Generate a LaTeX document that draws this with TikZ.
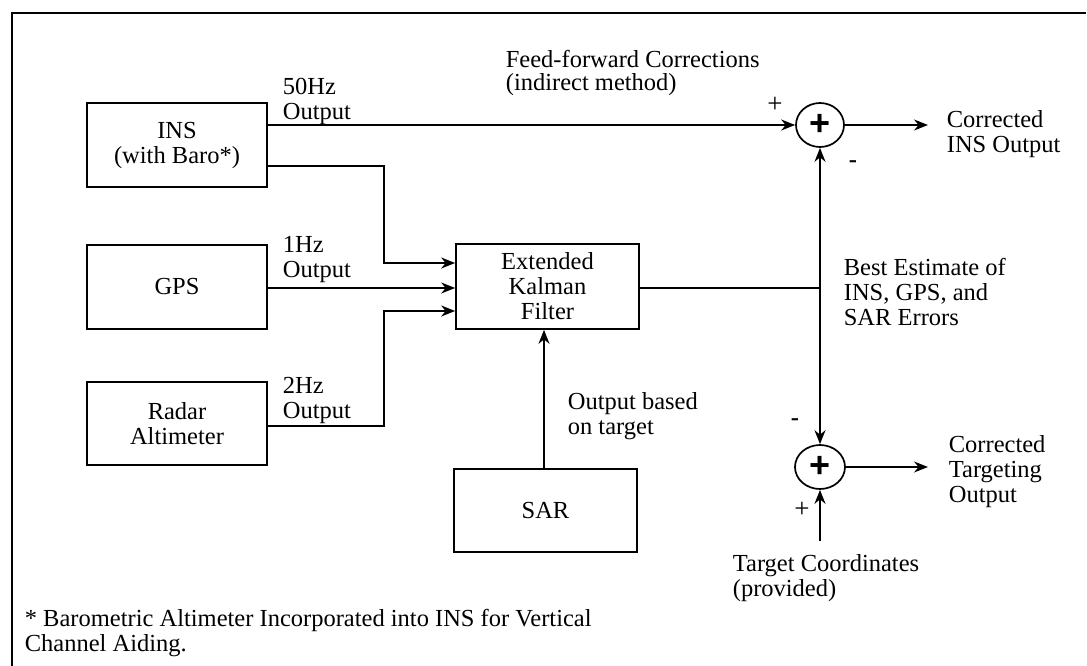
\documentclass[tikz,border=0pt]{standalone}
\usepackage{fontspec}
\setmainfont{Liberation Serif}
\newfontfamily\plusfont{Liberation Sans}
\usetikzlibrary{arrows.meta,shapes.geometric}

\begin{document}
\begin{tikzpicture}[x=1pt,y=-1pt,
  font=\fontsize{24.5}{25}\selectfont,
  line width=1.7pt,
  blk/.style={draw, rectangle, minimum width=180pt, minimum height=84pt,
    align=center, inner sep=0pt},
  sumnode/.style={draw, ellipse, minimum width=48pt, minimum height=44pt,
    inner sep=0pt, font=\plusfont\bfseries\fontsize{36}{36}\selectfont},
  lbl/.style={anchor=west, align=left, inner sep=0pt},
  sgn/.style={inner sep=0pt, font=\fontsize{27}{27}\selectfont},
  dsh/.style={inner sep=0pt, font=\bfseries\fontsize{24.5}{25}\selectfont},
  arr/.style={-{Stealth[length=14pt,width=11pt]}},
  dblarr/.style={{Stealth[length=14pt,width=11pt]}-{Stealth[length=14pt,width=11pt]}},
]
\useasboundingbox (0,0) rectangle (1087,666);

% open frame (top and left edges)
\draw (12,666) -- (12,13) -- (1086,13);

% sensor and filter blocks
\node[blk] (ins) at (177,145) {INS\\(with Baro*)};
\node[blk] (gps) at (177,287) {GPS};
\node[blk, minimum height=83pt] (radar) at (177,423.5) {Radar\\Altimeter};
\node[blk, minimum width=183pt, minimum height=85pt] (ekf) at (547.5,286.5) {Extended\\Kalman\\Filter};
\node[blk, minimum width=183pt, minimum height=83pt] (sar) at (545.5,510.5) {SAR};

% summing junctions
\node[sumnode] (sum1) at (820,125) {+};
\node[sumnode, minimum width=50pt] (sum2) at (820,467) {+};

% free ends
\coordinate (out1) at (928,125);
\coordinate (out2) at (928,467);
\coordinate (tgt) at (820,541);

% connectors
\draw[arr] (ins.east |- sum1.west) -- (sum1.west);
\draw[arr] ([yshift=-21pt]ins.east) -- ++(116,0) |- ([yshift=23.5pt]ekf.west);
\draw[arr] ([yshift=-1pt]gps.east) -- ([yshift=-1pt]gps.east -| ekf.west);
\draw[arr] ([yshift=-2.5pt]radar.east) -- ++(116,0) |- ([yshift=-24.5pt]ekf.west);
\draw[arr] ([xshift=-1.5pt]sar.north) -- ([xshift=-1.5pt]sar.north |- ekf.south);
\draw ([yshift=-1.5pt]ekf.east) -- ([yshift=-1.5pt]ekf.east -| sum1.south);
\draw[dblarr] (sum1.south) -- (sum2.north);
\draw[arr, line width=1.2pt] (sum1.east) -- (out1);
\draw[arr, line width=1.2pt] (sum2.east) -- (out2);
\draw[arr] (tgt) -- (sum2.south);

% labels
\node[lbl] (l50) at (282,101) {50Hz\\Output};
\node[lbl] (l1) at (282,260) {1Hz\\Output};
\node[lbl] (l2) at (282,400) {2Hz\\Output};
\node[lbl, font=\fontsize{24.5}{23}\selectfont] (lff) at (505,73) {Feed-forward Corrections\\(indirect method)};
\node[lbl] (lci) at (946,134) {Corrected\\INS Output};
\node[lbl] (lbe) at (843,292) {Best Estimate of\\INS, GPS, and\\SAR Errors};
\node[lbl] (lob) at (567,416) {Output based\\on target};
\node[lbl] (lct) at (948,472) {Corrected\\Targeting\\Output};
\node[lbl] (ltc) at (732,578.5) {Target Coordinates\\(provided)};
\node[lbl] (fn) at (24,633) {* Barometric Altimeter Incorporated into INS for Vertical\\Channel Aiding.};

% signs at the junctions
\node[sgn] (p1) at (775,105) {+};
\node[dsh] (m1) at (853,164) {-};
\node[dsh] (m2) at (795,422) {-};
\node[sgn] (p2) at (802,510) {+};
\end{tikzpicture}
\end{document}
